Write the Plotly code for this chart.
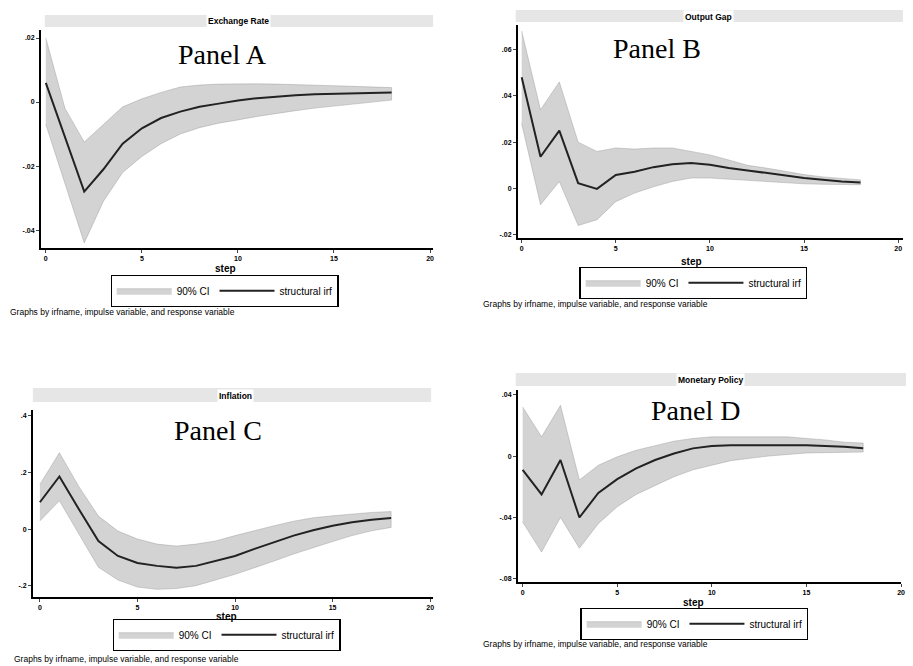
import plotly.graph_objects as go

W, H = 913, 666

steps = list(range(19))

# Panel A: Exchange Rate
A_irf = [0.006, -0.011, -0.028, -0.021, -0.013, -0.0082, -0.005, -0.003, -0.0015, -0.0005,
         0.0005, 0.0012, 0.0017, 0.0021, 0.0024, 0.0026, 0.0028, 0.0029, 0.003]
A_hi = [0.020, -0.002, -0.0125, -0.007, -0.0015, 0.001, 0.003, 0.0047, 0.0053, 0.0056,
        0.0057, 0.0057, 0.0056, 0.0055, 0.0053, 0.0051, 0.0049, 0.0047, 0.0045]
A_lo = [-0.007, -0.0255, -0.044, -0.031, -0.022, -0.017, -0.013, -0.010, -0.008, -0.0066,
        -0.0056, -0.0045, -0.0035, -0.0027, -0.0019, -0.0013, -0.0007, 0.0, 0.0006]

# Panel B: Output Gap
B_irf = [0.048, 0.0137, 0.025, 0.0023, -0.0002, 0.0058, 0.0072, 0.0092, 0.0105, 0.011,
         0.0102, 0.0088, 0.0078, 0.0066, 0.0055, 0.0045, 0.0038, 0.003, 0.0026]
B_hi = [0.068, 0.034, 0.046, 0.020, 0.016, 0.0175, 0.017, 0.0175, 0.0175, 0.016,
        0.0145, 0.0123, 0.010, 0.0088, 0.0073, 0.006, 0.005, 0.0043, 0.0037]
B_lo = [0.028, -0.007, 0.003, -0.016, -0.0135, -0.0057, -0.002, 0.0007, 0.003, 0.0045,
        0.0045, 0.0042, 0.0037, 0.003, 0.0025, 0.002, 0.0018, 0.0016, 0.0016]

# Panel C: Inflation
C_irf = [0.095, 0.186, 0.07, -0.042, -0.095, -0.12, -0.13, -0.137, -0.13, -0.113,
         -0.095, -0.07, -0.047, -0.023, -0.004, 0.012, 0.024, 0.033, 0.039]
C_hi = [0.158, 0.27, 0.15, 0.046, -0.007, -0.035, -0.053, -0.06, -0.053, -0.042,
        -0.023, -0.005, 0.012, 0.028, 0.04, 0.047, 0.053, 0.059, 0.062]
C_lo = [0.029, 0.1, -0.018, -0.135, -0.18, -0.205, -0.213, -0.21, -0.2, -0.18,
        -0.16, -0.137, -0.113, -0.088, -0.065, -0.044, -0.023, -0.006, 0.006]

# Panel D: Monetary Policy
D_irf = [-0.009, -0.025, -0.0026, -0.040, -0.024, -0.015, -0.008, -0.0026, 0.0017, 0.005,
         0.0065, 0.007, 0.007, 0.007, 0.007, 0.007, 0.0065, 0.006, 0.005]
D_hi = [0.032, 0.0125, 0.033, -0.0156, -0.006, -0.0005, 0.0038, 0.007, 0.0097, 0.0115,
        0.0125, 0.0125, 0.0125, 0.0125, 0.0125, 0.0115, 0.0105, 0.009, 0.0085]
D_lo = [-0.043, -0.0625, -0.040, -0.06, -0.044, -0.033, -0.025, -0.019, -0.0135, -0.009,
        -0.006, -0.003, -0.0015, 0.0, 0.001, 0.002, 0.0022, 0.0024, 0.0026]

x_ticks = [0, 5, 10, 15, 20]
x_ticktext = ["0", "5", "10", "15", "20"]

A_yticks = [0.02, 0.0, -0.02, -0.04]
A_yticktext = [".02", "0", "-.02", "-.04"]
B_yticks = [0.06, 0.04, 0.02, 0.0, -0.02]
B_yticktext = [".06", ".04", ".02", "0", "-.02"]
C_yticks = [0.4, 0.2, 0.0, -0.2]
C_yticktext = [".4", ".2", "0", "-.2"]
D_yticks = [0.04, 0.0, -0.04, -0.08]
D_yticktext = [".04", "0", "-.04", "-.08"]

titles = ["Exchange Rate", "Output Gap", "Inflation", "Monetary Policy"]
panel_labels = ["Panel A", "Panel B", "Panel C", "Panel D"]
legend_ci = "90% CI"
legend_line = "structural irf"
note = "Graphs by irfname, impulse variable, and response variable"


def px(x):
    return x / W


def py(y):
    return 1 - y / H


def bold(labels):
    return ["<b>%s</b>" % t for t in labels]


panels = [
    dict(irf=A_irf, hi=A_hi, lo=A_lo, yt=A_yticks, ytt=A_yticktext,
         dom=(41, 435, 30, 248), xr=(-0.26, 20.16), yr=(-0.0456, 0.0225),
         band=(45, 435, 15, 27), title=(240, 21), plab=(223, 54),
         step=(226, 268), leg=(111, 275), note=(8, 312)),
    dict(irf=B_irf, hi=B_hi, lo=B_lo, yt=B_yticks, ytt=B_yticktext,
         dom=(520, 907, 25, 238), xr=(-0.21, 20.26), yr=(-0.0214, 0.0706),
         band=(518, 907, 10, 22), title=(712, 17), plab=(660, 49),
         step=(695, 261), leg=(582, 267), note=(483, 304)),
    dict(irf=C_irf, hi=C_hi, lo=C_lo, yt=C_yticks, ytt=C_yticktext,
         dom=(33, 435, 410, 597), xr=(-0.36, 20.15), yr=(-0.240, 0.421),
         band=(33, 433, 388, 402), title=(237, 396), plab=(219, 430),
         step=(227, 616), leg=(113, 619), note=(12, 659)),
    dict(irf=D_irf, hi=D_hi, lo=D_lo, yt=D_yticks, ytt=D_yticktext,
         dom=(520, 905, 390, 582), xr=(-0.26, 20.0), yr=(-0.082, 0.043),
         band=(518, 910, 373, 386), title=(714, 380), plab=(699, 410),
         step=(697, 602), leg=(583, 608), note=(483, 644)),
]

fig = go.Figure()
annotations = []
shapes = []
layout = {}

for i, p in enumerate(panels):
    n = "" if i == 0 else str(i + 1)
    xa, ya = "x" + n, "y" + n
    lg = "legend" + n
    x0, x1, yt, yb = p["dom"]
    fig.add_trace(go.Scatter(
        x=steps + steps[::-1], y=p["hi"] + p["lo"][::-1],
        xaxis=xa, yaxis=ya, mode="lines", fill="toself",
        fillcolor="rgba(120,120,120,0.33)", line=dict(color="rgba(130,130,130,0.55)", width=0.6),
        name=legend_ci, legend=lg, showlegend=True, hoverinfo="skip"))
    fig.add_trace(go.Scatter(
        x=steps, y=p["irf"], xaxis=xa, yaxis=ya, mode="lines",
        line=dict(color="#222222", width=2), name=legend_line, legend=lg, showlegend=True))
    layout["xaxis" + n] = dict(
        domain=[px(x0), px(x1)], range=list(p["xr"]), anchor=ya,
        tickvals=x_ticks, ticktext=bold(x_ticktext), ticks="outside", ticklen=3,
        tickfont=dict(size=7, color="black", family="Liberation Sans"),
        showline=True, linecolor="black", linewidth=1.5, showgrid=False, zeroline=False)
    layout["yaxis" + n] = dict(
        domain=[py(yb), py(yt)], range=list(p["yr"]), anchor=xa,
        tickvals=p["yt"], ticktext=bold(p["ytt"]), ticks="outside", ticklen=3,
        tickfont=dict(size=7, color="black", family="Liberation Sans"),
        showline=True, linecolor="black", linewidth=1.5, showgrid=False, zeroline=False)
    layout[lg] = dict(
        x=px(p["leg"][0]), y=py(p["leg"][1]), xanchor="left", yanchor="top",
        orientation="h", bordercolor="black", borderwidth=1.2, bgcolor="white",
        font=dict(size=10, color="black", family="Liberation Sans"),
        itemwidth=55, tracegroupgap=0)
    bx0, bx1, by0, by1 = p["band"]
    shapes.append(dict(type="rect", xref="paper", yref="paper",
                       x0=px(bx0), x1=px(bx1), y0=py(by1), y1=py(by0),
                       fillcolor="#e6e6e6", line=dict(width=0), layer="below"))
    annotations.append(dict(x=px(p["title"][0]), y=py(p["title"][1]), xref="paper", yref="paper",
                            xanchor="center", yanchor="middle",
                            text="<b>%s</b>" % titles[i], showarrow=False, bgcolor="white",
                            font=dict(size=8.5, color="black", family="Liberation Sans")))
    annotations.append(dict(x=px(p["plab"][0]), y=py(p["plab"][1]), xref="paper", yref="paper",
                            xanchor="center", yanchor="middle",
                            text=panel_labels[i], showarrow=False,
                            font=dict(size=28, color="black", family="Liberation Serif")))
    annotations.append(dict(x=px(p["step"][0]), y=py(p["step"][1]), xref="paper", yref="paper",
                            xanchor="center", yanchor="middle",
                            text="<b>step</b>", showarrow=False,
                            font=dict(size=10, color="black", family="Liberation Sans")))
    annotations.append(dict(x=px(p["note"][0]), y=py(p["note"][1]), xref="paper", yref="paper",
                            xanchor="left", yanchor="middle",
                            text=note, showarrow=False,
                            font=dict(size=8.5, color="black", family="Liberation Sans")))

fig.update_layout(
    width=W, height=H, margin=dict(l=0, r=0, t=0, b=0),
    paper_bgcolor="white", plot_bgcolor="white",
    annotations=annotations, shapes=shapes, **layout)

fig.write_html("out.html", config={"displayModeBar": False},
               post_script="document.body.style.margin='0';document.body.style.overflow='hidden';")
